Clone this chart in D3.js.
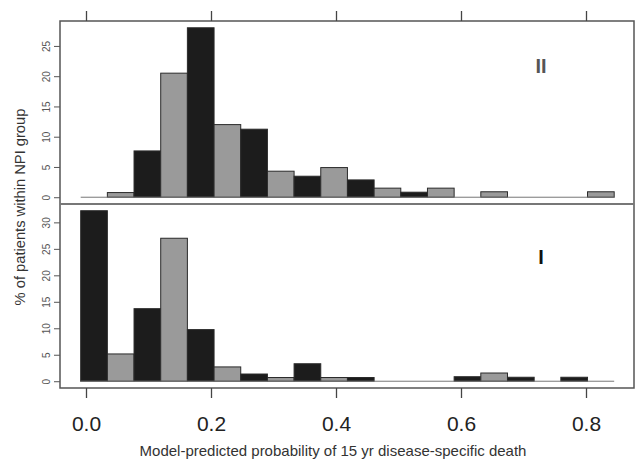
<!DOCTYPE html>
<html>
<head>
<meta charset="utf-8">
<script src="https://cdn.jsdelivr.net/npm/d3@7"></script>
<style>
  body { margin: 0; background: #fff; }
  svg { display: block; font-family: "Liberation Sans", Arial, sans-serif; }
</style>
</head>
<body>
<div id="chart"></div>
<script>
/* Histograms of model-predicted 15 yr death probability, NPI groups II and I */

const binStart = -0.0085,
  binWidth = 0.04268;

// % of patients per bin, 20 bins each
const groupII = [0, 0.77, 7.65, 20.5, 28, 12, 11.24, 4.3, 3.47, 4.9,
  2.86, 1.5, 0.83, 1.5, 0, 0.9, 0, 0, 0, 0.9];
const groupI = [32.2, 5.15, 13.7, 27, 9.75, 2.7, 1.36, 0.7, 3.3, 0.7,
  0.7, 0, 0, 0, 0.85, 1.55, 0.75, 0, 0.75, 0];

const xTicks = [0, 0.2, 0.4, 0.6, 0.8];
const yTicksII = [0, 5, 10, 15, 20, 25];
const yTicksI = [0, 5, 10, 15, 20, 25, 30];

const width = 638,
  height = 461,
  frameLeft = 60,
  frameRight = 634,
  frameTop = 21,
  frameMid = 204,
  frameBottom = 388;

const svg = d3.select("#chart")
  .append("svg")
  .attr("width", width)
  .attr("height", height);

const x = d3.scaleLinear().domain([-0.0416, 0.8768]).range([frameLeft, frameRight]);

const panels = [
  {data: groupII, label: "II", labelColor: "#555", ticks: yTicksII,
    y: d3.scaleLinear().domain([-1.12, 29.12]).range([frameMid, frameTop]), labelY: 66},
  {data: groupI, label: "I", labelColor: "#111", ticks: yTicksI,
    y: d3.scaleLinear().domain([-1.28, 33.28]).range([frameBottom, frameMid + 1]), labelY: 257}
];

panels.forEach(p => {
  const g = svg.append("g");

  g.selectAll("rect")
    .data(p.data)
    .join("rect")
    .attr("x", (d, i) => x(binStart + i * binWidth))
    .attr("width", x(binWidth) - x(0))
    .attr("y", d => p.y(d))
    .attr("height", d => p.y(0) - p.y(d))
    .attr("fill", (d, i) => i % 2 ? "#9a9a9a" : "#1c1c1c")
    .attr("stroke", "#2a2a2a")
    .attr("stroke-width", 1);

  // zero-height bins still show a baseline stroke
  g.append("line")
    .attr("x1", x(binStart))
    .attr("x2", x(binStart + 20 * binWidth))
    .attr("y1", p.y(0))
    .attr("y2", p.y(0))
    .attr("stroke", "#777")
    .attr("stroke-width", 1);

  const yAxis = svg.append("g")
    .attr("transform", `translate(${frameLeft},0)`)
    .call(d3.axisLeft(p.y).tickValues(p.ticks).tickSize(6).tickPadding(0).tickFormat(d3.format("d")));
  yAxis.select(".domain").remove();
  yAxis.selectAll("line").attr("stroke", "#555");
  yAxis.selectAll("text")
    .attr("transform", "translate(-14,0) rotate(-90)")
    .attr("x", 0)
    .attr("dy", "0.35em")
    .attr("text-anchor", "middle")
    .attr("fill", "#555")
    .style("font-size", "10px");

  svg.append("text")
    .attr("x", 541)
    .attr("y", p.labelY)
    .attr("text-anchor", "middle")
    .attr("dominant-baseline", "central")
    .attr("fill", p.labelColor)
    .style("font-size", "20px")
    .style("font-weight", "bold")
    .text(p.label);
});

// frame and panel divider
svg.append("rect")
  .attr("x", frameLeft)
  .attr("y", frameTop)
  .attr("width", frameRight - frameLeft)
  .attr("height", frameBottom - frameTop)
  .attr("fill", "none")
  .attr("stroke", "#555")
  .attr("stroke-width", 1.5);

svg.append("line")
  .attr("x1", frameLeft)
  .attr("x2", frameRight)
  .attr("y1", frameMid)
  .attr("y2", frameMid)
  .attr("stroke", "#777")
  .attr("stroke-width", 2);

const topAxis = svg.append("g")
  .attr("transform", `translate(0,${frameTop})`)
  .call(d3.axisTop(x).tickValues(xTicks).tickSize(10).tickFormat(""));
topAxis.select(".domain").remove();
topAxis.selectAll("line").attr("stroke", "#444").attr("stroke-width", 1.3);

const bottomAxis = svg.append("g")
  .attr("transform", `translate(0,${frameBottom})`)
  .call(d3.axisBottom(x).tickValues(xTicks).tickSize(10).tickPadding(18).tickFormat(d3.format(".1f")));
bottomAxis.select(".domain").remove();
bottomAxis.selectAll("line").attr("stroke", "#444").attr("stroke-width", 1.3);
bottomAxis.selectAll("text")
  .attr("fill", "#222")
  .style("font-size", "21px");

svg.append("text")
  .attr("x", 333)
  .attr("y", 456)
  .attr("text-anchor", "middle")
  .attr("fill", "#333")
  .style("font-size", "15px")
  .text("Model-predicted probability of 15 yr disease-specific death");

svg.append("text")
  .attr("transform", "translate(25,207) rotate(-90)")
  .attr("text-anchor", "middle")
  .attr("fill", "#333")
  .style("font-size", "14.7px")
  .text("% of patients within NPI group");
</script>
</body>
</html>
